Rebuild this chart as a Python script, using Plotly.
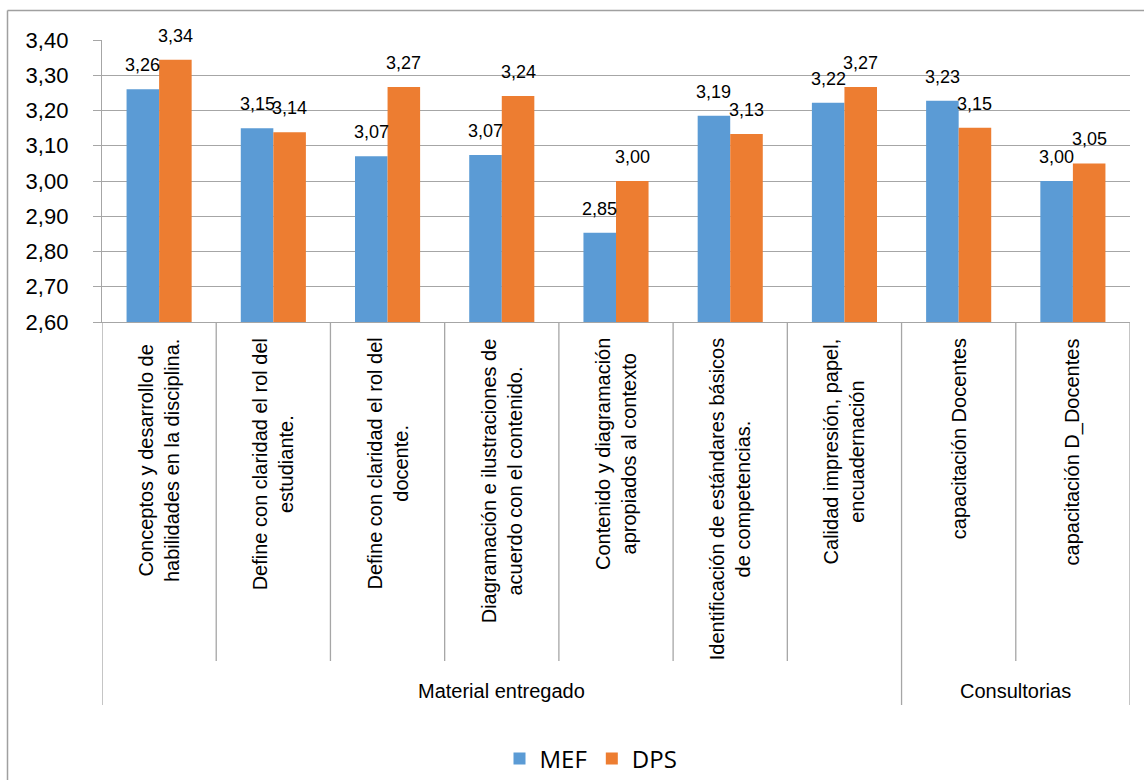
import plotly.graph_objects as go

categories = [
    "Conceptos y desarrollo de<br>habilidades en la disciplina.",
    "Define con claridad el rol del<br>estudiante.",
    "Define con claridad el rol del<br>docente.",
    "Diagramación e ilustraciones de<br>acuerdo con el contenido.",
    "Contenido y diagramación<br>apropiados al contexto",
    "Identificación de estándares básicos<br>de competencias.",
    "Calidad impresión, papel,<br>encuadernación",
    "capacitación Docentes",
    "capacitación D_Docentes",
]
groups = ["Material entregado"] * 7 + ["Consultorias"] * 2
mef = [3.26, 3.15, 3.07, 3.074, 2.853, 3.185, 3.222, 3.228, 3.00]
dps = [3.344, 3.138, 3.267, 3.241, 3.00, 3.133, 3.267, 3.151, 3.05]
y_ticks = [2.6, 2.7, 2.8, 2.9, 3.0, 3.1, 3.2, 3.3, 3.4]

BLUE = "#5B9BD5"
ORANGE = "#ED7D31"
GRID = "#A6A6A6"
SANS = "Liberation Sans, Arial"

W, H = 1144, 780
L, R, T, B = 102, 14, 40, 458
plot_h = H - T - B
plot_w = W - L - R

def py(pix):
    return (H - B - pix) / plot_h

def px(pix):
    return (pix - L) / plot_w

idx = list(range(len(categories)))

fig = go.Figure()
fig.add_trace(go.Bar(x=idx, y=mef, name="MEF", marker=dict(color=BLUE, line=dict(width=0))))
fig.add_trace(go.Bar(x=idx, y=dps, name="DPS", marker=dict(color=ORANGE, line=dict(width=0))))

annotations = []
bar_half = 0.285 * 0.5
for i in idx:
    for vals, off in ((mef, -bar_half), (dps, bar_half)):
        annotations.append(dict(
            x=i + off, y=vals[i], xref="x", yref="y",
            text=f"{vals[i]:.2f}".replace(".", ","),
            showarrow=False, yanchor="bottom", xanchor="center", yshift=12,
            font=dict(family=SANS, size=18, color="#000000"),
        ))
    annotations.append(dict(
        x=i, y=py(336), xref="x", yref="paper", text=categories[i],
        textangle=-90, showarrow=False, xanchor="center", yanchor="top",
        align="center", font=dict(family=SANS, size=20, color="#000000"),
    ))

shapes = []
group_names = []
for g in groups:
    if g not in group_names:
        group_names.append(g)
for g in group_names:
    members = [i for i in idx if groups[i] == g]
    center = (members[0] + members[-1]) / 2
    annotations.append(dict(
        x=center, y=py(691), xref="x", yref="paper", text=g, showarrow=False,
        xanchor="center", yanchor="middle",
        font=dict(family=SANS, size=20, color="#000000"),
    ))

for k in range(len(categories) + 1):
    boundary = k - 0.5
    is_group = k == 0 or k == len(categories) or groups[k] != groups[k - 1]
    bottom = 705 if is_group else 661
    shapes.append(dict(type="line", xref="x", yref="paper", x0=boundary, x1=boundary,
                       y0=0, y1=py(bottom), line=dict(color=GRID, width=1.3)))

# outer chart border (left and top edges visible)
shapes.append(dict(type="line", xref="paper", yref="paper", x0=px(7.5), x1=px(7.5),
                   y0=py(10.5), y1=py(800), line=dict(color="#A0A0A0", width=1.5)))
shapes.append(dict(type="line", xref="paper", yref="paper", x0=px(7.5), x1=px(1160),
                   y0=py(10.5), y1=py(10.5), line=dict(color="#A0A0A0", width=1.5)))

fig.update_layout(
    width=W, height=H,
    margin=dict(l=L, r=R, t=T, b=B, autoexpand=False),
    paper_bgcolor="white", plot_bgcolor="white",
    separators=",.",
    barmode="group", bargap=0.43, bargroupgap=0,
    showlegend=True,
    legend=dict(orientation="h", x=px(591), xanchor="center", y=py(759), yanchor="middle",
                font=dict(family="Open Sans", size=24, color="#000000"),
                itemwidth=30, traceorder="normal"),
    annotations=annotations, shapes=shapes,
    xaxis=dict(range=[-0.5, len(categories) - 0.5], showticklabels=False, showgrid=False,
               zeroline=False, showline=True, linecolor=GRID, linewidth=1.3, ticks=""),
    yaxis=dict(range=[2.6, 3.4], tickvals=y_ticks, tickformat=".2f",
               showgrid=True, gridcolor=GRID, gridwidth=1.3, zeroline=False,
               showline=True, linecolor=GRID, linewidth=1.3,
               ticks="outside", ticklen=8, tickcolor=GRID, tickwidth=1.3,
               ticklabelstandoff=20,
               tickfont=dict(family=SANS, size=22, color="#000000")),
)

fig.write_html("out.html")
